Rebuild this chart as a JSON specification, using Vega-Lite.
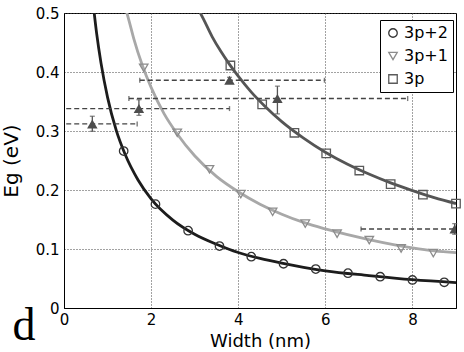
{
  "$schema": "https://vega.github.io/schema/vega-lite/v6.json",
  "width": 392,
  "height": 295,
  "autosize": {"type": "none"},
  "padding": {"left": 64, "top": 13, "right": 8, "bottom": 44},
  "background": "white",
  "config": {
    "view": {"stroke": "black", "strokeWidth": 1},
    "axis": {
      "domainColor": "black",
      "gridColor": "#444444",
      "gridDash": [1, 2],
      "gridWidth": 1,
      "gridOpacity": 1,
      "ticks": false,
      "labelColor": "black",
      "labelFont": "DejaVu Sans",
      "labelFontSize": 15,
      "titleColor": "black",
      "titleFont": "DejaVu Sans",
      "titleFontSize": 18,
      "titleFontWeight": "normal"
    },
    "legend": {
      "orient": "none",
      "legendX": 316,
      "legendY": 7,
      "strokeColor": "black",
      "fillColor": "white",
      "padding": 5,
      "rowPadding": 7,
      "labelFont": "DejaVu Sans",
      "labelFontSize": 16,
      "labelColor": "black",
      "labelOffset": 3,
      "symbolSize": 72,
      "symbolStrokeWidth": 1.3
    }
  },
  "datasets": {
    "curves": [
      {"series": "3p+2", "x": 0.66, "y": 0.522},
      {"series": "3p+2", "x": 0.75, "y": 0.465},
      {"series": "3p+2", "x": 0.85, "y": 0.415},
      {"series": "3p+2", "x": 1.0, "y": 0.357},
      {"series": "3p+2", "x": 1.2, "y": 0.301},
      {"series": "3p+2", "x": 1.4, "y": 0.261},
      {"series": "3p+2", "x": 1.7, "y": 0.217},
      {"series": "3p+2", "x": 2.0, "y": 0.185},
      {"series": "3p+2", "x": 2.5, "y": 0.149},
      {"series": "3p+2", "x": 3.0, "y": 0.125},
      {"series": "3p+2", "x": 3.5, "y": 0.108},
      {"series": "3p+2", "x": 4.0, "y": 0.094},
      {"series": "3p+2", "x": 4.5, "y": 0.084},
      {"series": "3p+2", "x": 5.0, "y": 0.076},
      {"series": "3p+2", "x": 5.5, "y": 0.069},
      {"series": "3p+2", "x": 6.0, "y": 0.063},
      {"series": "3p+2", "x": 7.0, "y": 0.055},
      {"series": "3p+2", "x": 8.0, "y": 0.048},
      {"series": "3p+2", "x": 9.0, "y": 0.043},
      {"series": "3p+1", "x": 1.4, "y": 0.512},
      {"series": "3p+1", "x": 1.5, "y": 0.485},
      {"series": "3p+1", "x": 1.6, "y": 0.457},
      {"series": "3p+1", "x": 1.8, "y": 0.411},
      {"series": "3p+1", "x": 2.0, "y": 0.374},
      {"series": "3p+1", "x": 2.3, "y": 0.329},
      {"series": "3p+1", "x": 2.6, "y": 0.295},
      {"series": "3p+1", "x": 3.0, "y": 0.258},
      {"series": "3p+1", "x": 3.5, "y": 0.223},
      {"series": "3p+1", "x": 4.0, "y": 0.197},
      {"series": "3p+1", "x": 4.5, "y": 0.176},
      {"series": "3p+1", "x": 5.0, "y": 0.159},
      {"series": "3p+1", "x": 5.5, "y": 0.145},
      {"series": "3p+1", "x": 6.0, "y": 0.134},
      {"series": "3p+1", "x": 7.0, "y": 0.116},
      {"series": "3p+1", "x": 8.0, "y": 0.102},
      {"series": "3p+1", "x": 8.5, "y": 0.097},
      {"series": "3p+1", "x": 9.0, "y": 0.094},
      {"series": "3p", "x": 3.05, "y": 0.511},
      {"series": "3p", "x": 3.2, "y": 0.49},
      {"series": "3p", "x": 3.4, "y": 0.46},
      {"series": "3p", "x": 3.6, "y": 0.435},
      {"series": "3p", "x": 3.8, "y": 0.413},
      {"series": "3p", "x": 4.0, "y": 0.393},
      {"series": "3p", "x": 4.3, "y": 0.366},
      {"series": "3p", "x": 4.6, "y": 0.343},
      {"series": "3p", "x": 5.0, "y": 0.316},
      {"series": "3p", "x": 5.5, "y": 0.288},
      {"series": "3p", "x": 6.0, "y": 0.264},
      {"series": "3p", "x": 6.5, "y": 0.244},
      {"series": "3p", "x": 7.0, "y": 0.227},
      {"series": "3p", "x": 7.5, "y": 0.212},
      {"series": "3p", "x": 8.0, "y": 0.199},
      {"series": "3p", "x": 8.5, "y": 0.187},
      {"series": "3p", "x": 9.0, "y": 0.177}
    ],
    "markers": [
      {"series": "3p+2", "x": 1.37, "y": 0.266},
      {"series": "3p+2", "x": 2.1, "y": 0.176},
      {"series": "3p+2", "x": 2.85, "y": 0.131},
      {"series": "3p+2", "x": 3.57, "y": 0.105},
      {"series": "3p+2", "x": 4.3, "y": 0.087},
      {"series": "3p+2", "x": 5.04, "y": 0.075},
      {"series": "3p+2", "x": 5.78, "y": 0.066},
      {"series": "3p+2", "x": 6.52, "y": 0.059},
      {"series": "3p+2", "x": 7.26, "y": 0.053},
      {"series": "3p+2", "x": 8.0, "y": 0.0475},
      {"series": "3p+2", "x": 8.73, "y": 0.0436},
      {"series": "3p+1", "x": 1.83, "y": 0.407},
      {"series": "3p+1", "x": 2.6, "y": 0.297},
      {"series": "3p+1", "x": 3.34, "y": 0.235},
      {"series": "3p+1", "x": 4.06, "y": 0.193},
      {"series": "3p+1", "x": 4.79, "y": 0.163},
      {"series": "3p+1", "x": 5.54, "y": 0.143},
      {"series": "3p+1", "x": 6.27, "y": 0.126},
      {"series": "3p+1", "x": 7.01, "y": 0.115},
      {"series": "3p+1", "x": 7.74, "y": 0.101},
      {"series": "3p+1", "x": 8.48, "y": 0.093},
      {"series": "3p", "x": 3.82, "y": 0.411},
      {"series": "3p", "x": 4.55, "y": 0.345},
      {"series": "3p", "x": 5.29, "y": 0.297},
      {"series": "3p", "x": 6.02, "y": 0.262},
      {"series": "3p", "x": 6.78, "y": 0.233},
      {"series": "3p", "x": 7.5, "y": 0.21},
      {"series": "3p", "x": 8.24, "y": 0.192},
      {"series": "3p", "x": 9.0, "y": 0.177}
    ],
    "errs": [
      {"x": 0.65, "y": 0.312, "ylo": 0.2995, "yhi": 0.325, "xlo": -0.5, "xhi": 1.68},
      {"x": 1.72, "y": 0.338, "ylo": 0.3265, "yhi": 0.353, "xlo": -0.5, "xhi": 3.8},
      {"x": 4.9, "y": 0.355, "ylo": 0.329, "yhi": 0.376, "xlo": 1.49, "xhi": 7.89},
      {"x": 3.8, "y": 0.386, "ylo": 0.381, "yhi": 0.391, "xlo": 1.74, "xhi": 5.98},
      {"x": 8.97, "y": 0.134, "ylo": 0.125, "yhi": 0.143, "xlo": 6.82, "xhi": 10}
    ],
    "panel": [{"x": -1.18, "y": -0.055, "label": "d"}]
  },
  "layer": [
    {
      "data": {"name": "curves"},
      "mark": {"type": "line", "strokeWidth": 2.8, "clip": true, "interpolate": "monotone"},
      "encoding": {
        "x": {"field": "x", "type": "quantitative", "scale": {"domain": [0, 9], "nice": false, "zero": false},
          "axis": {"values": [0, 2, 4, 6, 8], "labelPadding": 4, "titlePadding": 5, "labelFlush": false}, "title": "Width (nm)"},
        "y": {"field": "y", "type": "quantitative", "scale": {"domain": [0, 0.5], "nice": false, "zero": false},
          "axis": {"values": [0, 0.1, 0.2, 0.3, 0.4, 0.5], "format": "~g", "labelPadding": 5, "titlePadding": 14, "titleFontSize": 20, "labelFlush": false}, "title": "Eg (eV)"},
        "stroke": {"field": "series", "type": "nominal", "scale": {"domain": ["3p", "3p+1", "3p+2"], "range": ["#555555", "#a8a8a8", "#1c1c1c"]}, "legend": null},
        "order": {"field": "x", "type": "quantitative"}
      }
    },
    {
      "data": {"name": "markers"},
      "mark": {"type": "point", "filled": false, "size": 72, "strokeWidth": 1.3, "opacity": 1},
      "encoding": {
        "x": {"field": "x", "type": "quantitative", "title": "Width (nm)"},
        "y": {"field": "y", "type": "quantitative", "title": "Eg (eV)"},
        "color": {"field": "series", "type": "nominal", "scale": {"domain": ["3p+2", "3p+1", "3p"], "range": ["#333333", "#8c8c8c", "#5a5a5a"]},
          "legend": {"title": null}},
        "shape": {"field": "series", "type": "nominal", "scale": {"domain": ["3p+2", "3p+1", "3p"], "range": ["circle", "triangle-down", "square"]},
          "legend": {"title": null}}
      }
    },
    {
      "data": {"name": "errs"},
      "mark": {"type": "rule", "color": "#444444", "strokeWidth": 1.4, "strokeDash": [5, 3], "clip": true},
      "encoding": {
        "x": {"field": "xlo", "type": "quantitative", "title": "Width (nm)"},
        "x2": {"field": "xhi"},
        "y": {"field": "y", "type": "quantitative", "title": "Eg (eV)"}
      }
    },
    {
      "data": {"name": "errs"},
      "mark": {"type": "tick", "orient": "vertical", "color": "#444444", "thickness": 1.4, "bandSize": 8, "clip": true},
      "encoding": {
        "x": {"field": "xlo", "type": "quantitative", "title": "Width (nm)"},
        "y": {"field": "y", "type": "quantitative", "title": "Eg (eV)"}
      }
    },
    {
      "data": {"name": "errs"},
      "mark": {"type": "tick", "orient": "vertical", "color": "#444444", "thickness": 1.4, "bandSize": 8, "clip": true},
      "encoding": {
        "x": {"field": "xhi", "type": "quantitative", "title": "Width (nm)"},
        "y": {"field": "y", "type": "quantitative", "title": "Eg (eV)"}
      }
    },
    {
      "data": {"name": "errs"},
      "mark": {"type": "rule", "color": "#555555", "strokeWidth": 1.3},
      "encoding": {
        "x": {"field": "x", "type": "quantitative", "title": "Width (nm)"},
        "y": {"field": "ylo", "type": "quantitative", "title": "Eg (eV)"},
        "y2": {"field": "yhi"}
      }
    },
    {
      "data": {"name": "errs"},
      "mark": {"type": "tick", "orient": "horizontal", "color": "#555555", "thickness": 1.3, "bandSize": 9},
      "encoding": {
        "x": {"field": "x", "type": "quantitative", "title": "Width (nm)"},
        "y": {"field": "ylo", "type": "quantitative", "title": "Eg (eV)"}
      }
    },
    {
      "data": {"name": "errs"},
      "mark": {"type": "tick", "orient": "horizontal", "color": "#555555", "thickness": 1.3, "bandSize": 9},
      "encoding": {
        "x": {"field": "x", "type": "quantitative", "title": "Width (nm)"},
        "y": {"field": "yhi", "type": "quantitative", "title": "Eg (eV)"}
      }
    },
    {
      "data": {"name": "errs"},
      "mark": {"type": "point", "shape": "triangle-up", "filled": true, "size": 110, "color": "#4d4d4d", "opacity": 1, "clip": true},
      "encoding": {
        "x": {"field": "x", "type": "quantitative", "title": "Width (nm)"},
        "y": {"field": "y", "type": "quantitative", "title": "Eg (eV)"}
      }
    },
    {
      "data": {"name": "panel"},
      "mark": {"type": "text", "font": "Liberation Serif", "fontSize": 46, "align": "left", "baseline": "alphabetic", "color": "black"},
      "encoding": {
        "x": {"field": "x", "type": "quantitative", "title": "Width (nm)"},
        "y": {"field": "y", "type": "quantitative", "title": "Eg (eV)"},
        "text": {"field": "label"}
      }
    }
  ]
}
